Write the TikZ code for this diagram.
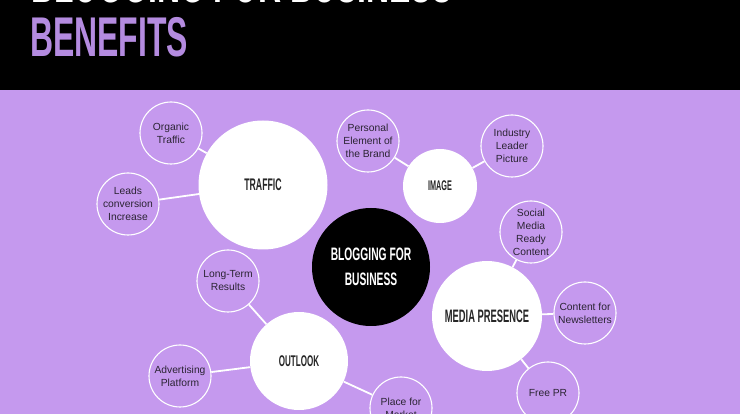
\documentclass[tikz,border=0pt]{standalone}
\usepackage{fontspec}
\setmainfont{Liberation Sans}
\newfontfamily\bebas[FakeStretch=0.52]{Liberation Sans Bold}
\newfontfamily\bebasb[FakeStretch=0.57]{Liberation Sans Bold}
\definecolor{bgpurple}{HTML}{C599EE}
\definecolor{titlepurple}{HTML}{B48BE0}
\definecolor{txtdark}{HTML}{2B2433}
\tikzset{
  small/.style={circle, draw=white, line width=1.1pt, fill=bgpurple, inner sep=0pt,
    minimum size=62pt, align=center, text=txtdark,
    font=\fontsize{10.3}{13}\selectfont},
  big/.style={circle, fill=white, draw=none, inner sep=0pt, align=center, text=black!85},
  hub/.style={circle, fill=black, draw=none, inner sep=0pt, align=center, text=white},
  link/.style={draw=white, line width=1.8pt},
}
\begin{document}
\begin{tikzpicture}[x=1pt,y=-1pt]
\useasboundingbox (0,0) rectangle (740,414);
\begin{scope}
\clip (0,0) rectangle (740,414);
\fill[black] (0,0) rectangle (740,90);
\fill[bgpurple] (0,90) rectangle (740,414);
\node[anchor=base west, inner sep=0pt, text=white, font=\fontsize{56}{56}\bebasb] (toptitle) at (31,3) {BLOGGING FOR BUSINESS};
\node[anchor=base west, inner sep=0pt, text=titlepurple, font=\fontsize{56}{56}\bebasb] (title) at (30,57) {BENEFITS};

% big circles
\node[big, minimum size=129pt, font=\fontsize{16.8}{20}\bebas] (traffic) at (263,185) {TRAFFIC};
\node[big, minimum size=74pt, font=\fontsize{14}{16}\bebas] (image) at (440,186) {IMAGE};
\node[hub, minimum size=118pt, font=\fontsize{18}{25}\bebasb] (hub) at (371,267) {BLOGGING FOR\\BUSINESS};
\node[big, minimum size=110pt, font=\fontsize{18}{20}\bebas] (media) at (487,316) {MEDIA PRESENCE};
\node[big, minimum size=98pt, font=\fontsize{15.5}{18}\bebas] (outlook) at (299,361) {OUTLOOK};

% small circles
\node[small] (organic) at (171,133) {Organic\\Traffic};
\node[small] (leads) at (128,204) {Leads\\conversion\\Increase};
\node[small] (personal) at (368,141) {Personal\\Element of\\the Brand};
\node[small] (industry) at (512,146) {Industry\\Leader\\Picture};
\node[small] (social) at (531,232) {Social\\Media\\Ready\\Content};
\node[small] (news) at (585,313) {Content for\\Newsletters};
\node[small] (freepr) at (548,393) {Free PR};
\node[small] (longterm) at (228,281) {Long-Term\\Results};
\node[small] (advert) at (180,376) {Advertising\\Platform};
\node[small] (market) at (401,408) {Place for\\Market};

% connectors
\draw[link] (organic) -- (traffic);
\draw[link] (leads) -- (traffic);
\draw[link] (personal) -- (image);
\draw[link] (industry) -- (image);
\draw[link] (social) -- (media);
\draw[link] (news) -- (media);
\draw[link] (freepr) -- (media);
\draw[link] (longterm) -- (outlook);
\draw[link] (advert) -- (outlook);
\draw[link] (market) -- (outlook);
\end{scope}
\end{tikzpicture}
\end{document}
